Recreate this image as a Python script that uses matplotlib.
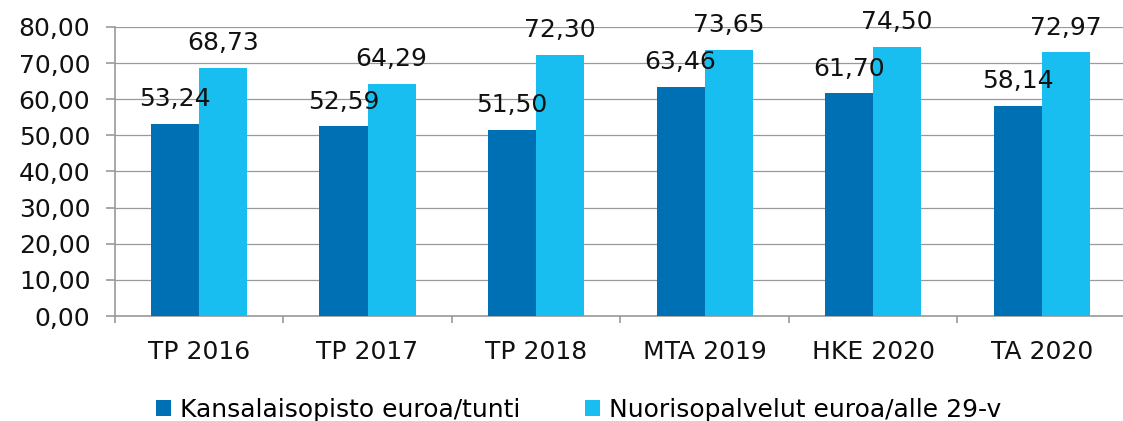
import numpy as np
import matplotlib
matplotlib.use('Agg')
import matplotlib.pyplot as plt

categories = ['TP 2016', 'TP 2017', 'TP 2018', 'MTA 2019', 'HKE 2020', 'TA 2020']
kansalaisopisto = [53.24, 52.59, 51.50, 63.46, 61.70, 58.14]
nuorisopalvelut = [68.73, 64.29, 72.30, 73.65, 74.50, 72.97]
series_names = ['Kansalaisopisto euroa/tunti', 'Nuorisopalvelut euroa/alle 29-v']

DARK = '#0070b4'
LIGHT = '#18bef0'
GRAY = '#9a9a9a'
FS = 18

plt.rcParams['font.family'] = ['DejaVu Sans']

fig = plt.figure(figsize=(11.23, 4.21), dpi=100)
ax = fig.add_axes([0.1021, 0.2494, 0.9006, 0.6865])

x = np.arange(len(categories))
w = 0.285
b1 = ax.bar(x - w / 2, kansalaisopisto, w, color=DARK, label=series_names[0], zorder=3)
b2 = ax.bar(x + w / 2, nuorisopalvelut, w, color=LIGHT, label=series_names[1], zorder=3)

def fmt(v):
    return f'{v:.2f}'.replace('.', ',')

# arvot palkkien yläpuolelle
for bars, vals in ((b1, kansalaisopisto), (b2, nuorisopalvelut)):
    for r, v in zip(bars, vals):
        ax.annotate(fmt(v), (r.get_x() + r.get_width() / 2, v),
                    xytext=(0, 9), textcoords='offset points',
                    ha='center', va='bottom', fontsize=FS, color='#111111', zorder=4)

ax.set_ylim(0, 80)
ax.set_yticks(np.arange(0, 81, 10))
ax.set_yticklabels([fmt(v) for v in np.arange(0, 81, 10)])
ax.set_xlim(-0.5, len(categories) - 0.5)
ax.set_xticks(x)
ax.set_xticklabels(categories)
ax.set_xticks(np.arange(-0.5, len(categories)), minor=True)

ax.grid(axis='y', color=GRAY, linewidth=0.9, zorder=0)
ax.set_axisbelow(True)
for s in ('top', 'right'):
    ax.spines[s].set_visible(False)
for s in ('left', 'bottom'):
    ax.spines[s].set_color(GRAY)
    ax.spines[s].set_linewidth(1.2)

ax.tick_params(axis='y', length=6.5, color=GRAY, width=1.2, pad=11, labelsize=FS, labelcolor='#111111')
ax.tick_params(axis='x', which='major', length=0, pad=17, labelsize=FS, labelcolor='#111111')
ax.tick_params(axis='x', which='minor', length=5, color=GRAY, width=1.2)

fig.legend(handles=[b1, b2], loc='lower center', bbox_to_anchor=(0.515, -0.055), ncol=2,
           frameon=False, fontsize=FS, handlelength=0.6, handleheight=0.6,
           handletextpad=0.35, columnspacing=2.6)

fig.savefig('out.png', dpi=100)
